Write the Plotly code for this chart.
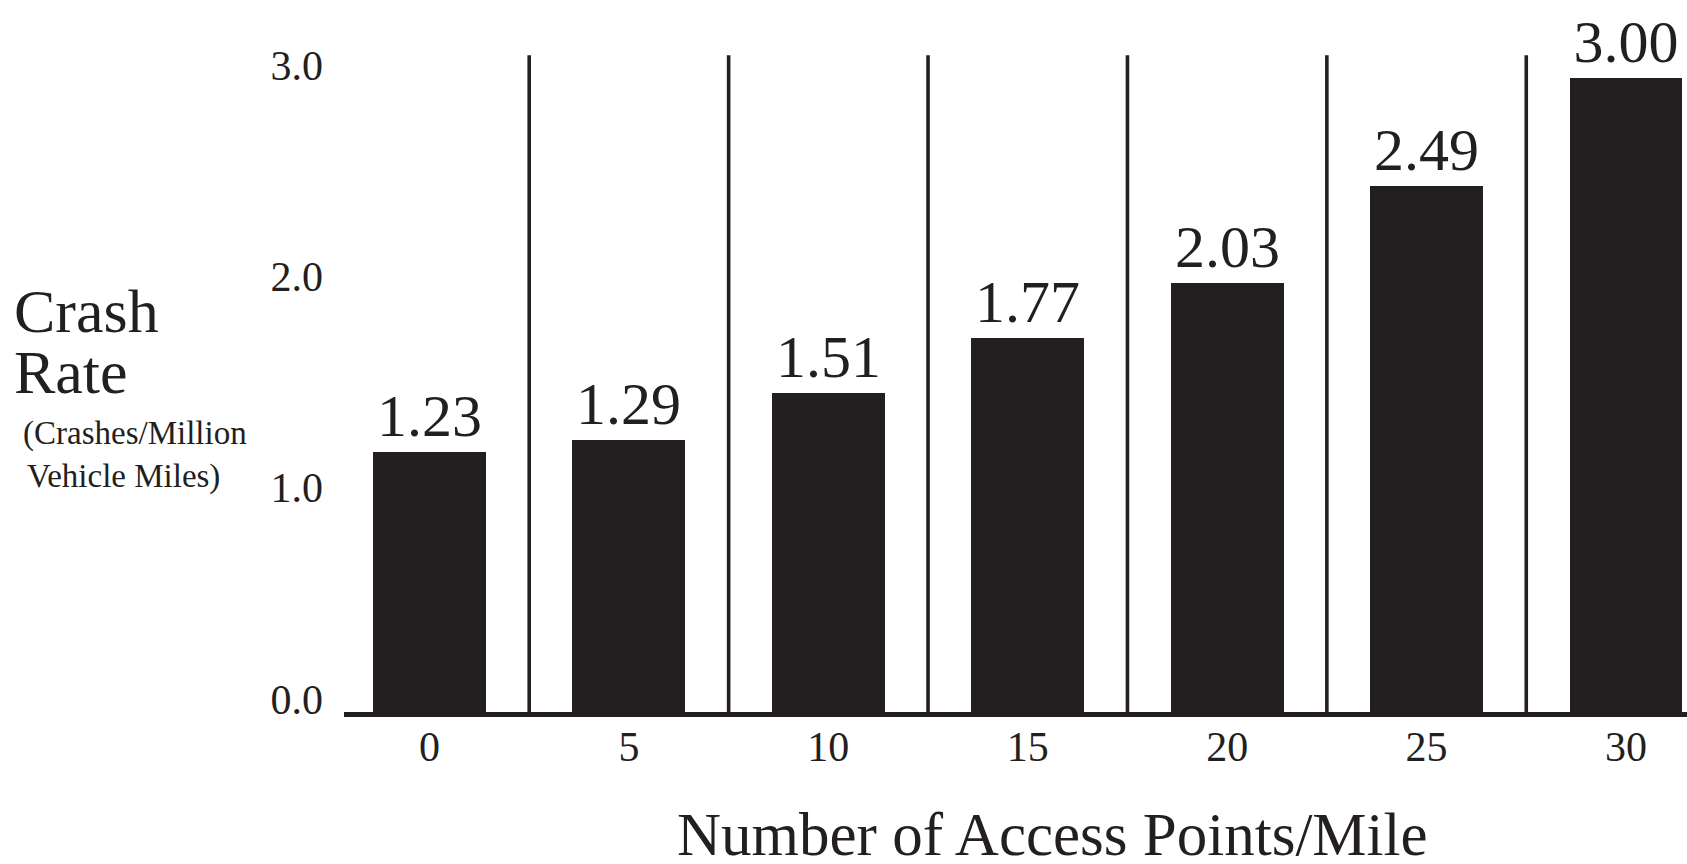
import plotly.graph_objects as go

# Access point density (points per mile) and corresponding crash rates
access_points = [0, 5, 10, 15, 20, 25, 30]
crash_rates = [1.23, 1.29, 1.51, 1.77, 2.03, 2.49, 3.00]
y_tick_values = [0, 1, 2, 3]
y_tick_labels = ["0.0", "1.0", "2.0", "3.0"]

INK = "#231f20"
FONT = "Liberation Serif"

W, H = 1687, 864
M_L, M_R, M_T, M_B = 344, 0, 15, 152
PLOT_W = W - M_L - M_R
PLOT_H = H - M_T - M_B


def paper_x(px):
    return (px - M_L) / PLOT_W


def paper_y(py):
    return (H - M_B - py) / PLOT_H


fig = go.Figure()

fig.add_trace(go.Bar(
    x=access_points,
    y=crash_rates,
    width=2.83,
    marker=dict(color=INK, line=dict(width=0)),
    text=[f"{v:.2f}" for v in crash_rates],
    textposition="outside",
    textfont=dict(family=FONT, size=60, color=INK),
    constraintext="none",
    cliponaxis=False,
    hoverinfo="skip",
))

# vertical separators midway between neighbouring categories
for a, b in zip(access_points[:-1], access_points[1:]):
    mid = (a + b) / 2
    fig.add_shape(type="line", xref="x", yref="y",
                  x0=mid, x1=mid, y0=0, y1=3.11,
                  line=dict(color=INK, width=3.6))

# y-axis title block
fig.add_annotation(text="Crash", xref="paper", yref="paper",
                   x=paper_x(12), y=paper_y(311), xanchor="left", yanchor="middle",
                   showarrow=False, font=dict(family=FONT, size=62, color=INK))
fig.add_annotation(text="Rate", xref="paper", yref="paper",
                   x=paper_x(12), y=paper_y(372), xanchor="left", yanchor="middle",
                   showarrow=False, font=dict(family=FONT, size=62, color=INK))
fig.add_annotation(text="(Crashes/Million", xref="paper", yref="paper",
                   x=paper_x(21), y=paper_y(434), xanchor="left", yanchor="middle",
                   showarrow=False, font=dict(family=FONT, size=33, color=INK))
fig.add_annotation(text="Vehicle Miles)", xref="paper", yref="paper",
                   x=paper_x(25), y=paper_y(476), xanchor="left", yanchor="middle",
                   showarrow=False, font=dict(family=FONT, size=33, color=INK))

# x-axis title
fig.add_annotation(text="Number of Access Points/Mile", xref="paper", yref="paper",
                   x=paper_x(1052), y=paper_y(834), xanchor="center", yanchor="middle",
                   showarrow=False, borderpad=0,
                   font=dict(family=FONT, size=61, color=INK))

fig.update_layout(
    width=W, height=H,
    margin=dict(l=M_L, r=M_R, t=M_T, b=M_B, pad=0),
    paper_bgcolor="white",
    plot_bgcolor="white",
    showlegend=False,
    font=dict(family=FONT, color=INK),
    bargap=0,
)

fig.update_xaxes(
    range=[-2.144, 31.53],
    tickvals=access_points,
    ticktext=[str(v) for v in access_points],
    tickfont=dict(family=FONT, size=42, color=INK),
    ticks="",
    ticklabelstandoff=-6,
    showgrid=False,
    zeroline=False,
    showline=True,
    linecolor=INK,
    linewidth=5,
    fixedrange=True,
)

fig.update_yaxes(
    range=[0, 3.3],
    tickvals=y_tick_values,
    ticktext=y_tick_labels,
    tickfont=dict(family=FONT, size=42, color=INK),
    ticks="",
    ticklabelstandoff=20,
    ticklabelshift=-13,
    showgrid=False,
    zeroline=False,
    showline=False,
    fixedrange=True,
)

fig.write_html("out.html", config={"displayModeBar": False})
